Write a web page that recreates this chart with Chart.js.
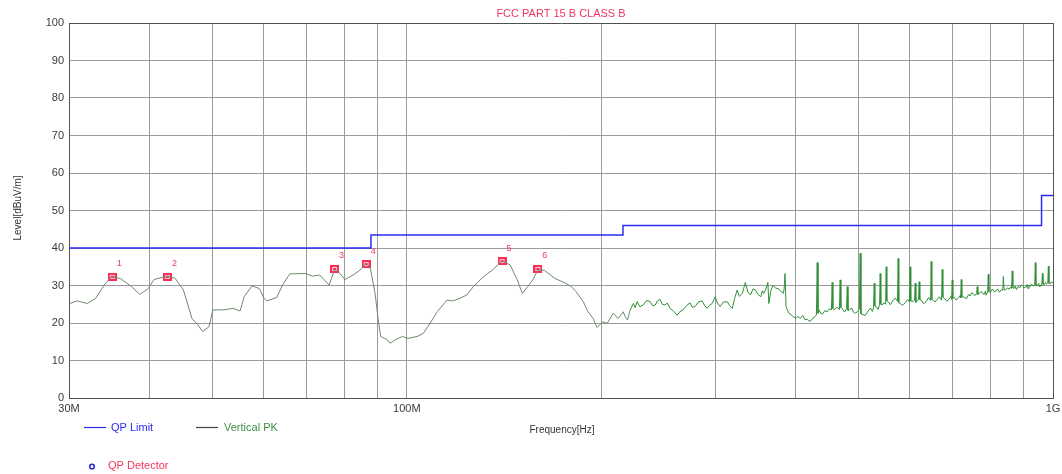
<!DOCTYPE html>
<html>
<head>
<meta charset="utf-8">
<script src="https://cdn.jsdelivr.net/npm/chart.js@4/dist/chart.umd.min.js"></script>
<style>
  html, body { margin: 0; padding: 0; background: #ffffff; }
  #wrap { width: 1062px; height: 474px; }
</style>
</head>
<body>
<div id="wrap"><canvas id="c" width="1062" height="474"></canvas></div>
<script>
// ---- texts ----
const chartTitle = 'FCC PART 15 B CLASS B';
const xAxisTitle = 'Frequency[Hz]';
const yAxisTitle = 'Level[dBuV/m]';
const legendLimit = 'QP Limit';
const legendPeak = 'Vertical PK';
const legendQp = 'QP Detector';

// ---- axes (MHz / dBuV/m) ----
const gridFreqs = [30, 40, 50, 60, 70, 80, 90, 100, 200, 300, 400, 500, 600, 700, 800, 900, 1000];
const freqTickLabels = { 30: '30M', 100: '100M', 1000: '1G' };
const levelMin = 0;
const levelMax = 100;
const levelStep = 10;

// ---- QP limit (stepped) ----
const limitFreq  = [30, 88, 88, 216, 216, 960, 960, 1000];
const limitLevel = [40, 40, 43.5, 43.5, 46, 46, 54, 54];

// ---- vertical peak sweep, 30 - 213 MHz ----
const pkFreqLow = [
  30.1, 30.9, 32.0, 33.0, 34.0, 34.9, 36.0, 37.5, 38.6, 39.8,
  40.6, 42.6, 43.8, 45.1, 46.5, 47.5, 48.3, 49.4, 50.1, 52.0,
  53.8, 55.2, 56.0, 57.6, 59.1, 60.1, 60.7, 62.9, 64.2, 65.9,
  69.8, 71.4, 73.3, 74.5, 75.8, 77.3, 78.8, 80.2, 82.6, 84.6,
  86.5, 87.7, 89.3, 90.3, 91.1, 93.2, 94.2, 95.9, 98.4, 100.4,
  103.7, 106.0, 108.6, 111.4, 115.4, 118.0, 120.9, 123.9, 126.7, 131.5,
  135.6, 140.4, 144.5, 148.2, 150.9, 153.8, 156.6, 159.5, 163.1, 169.4,
  176.1, 179.7, 182.9, 187.5, 190.7, 194.2, 197.0, 200.9, 204.2, 208.6,
  212.4
];
const pkLevelLow = [
  25.2, 25.9, 25.2, 26.6, 30.1, 32.4, 31.9, 29.7, 27.6, 29.2,
  31.6, 32.5, 31.9, 28.8, 21.2, 19.5, 17.7, 19.0, 23.5, 23.5,
  23.9, 23.2, 27.0, 29.9, 29.2, 26.6, 25.9, 26.8, 30.1, 33.1,
  33.2, 32.5, 32.8, 31.5, 30.1, 34.3, 33.2, 31.6, 32.8, 34.1,
  35.9, 35.0, 27.9, 20.8, 16.4, 15.6, 14.6, 15.5, 16.4, 15.9,
  16.4, 17.2, 19.9, 23.0, 26.1, 25.9, 26.6, 27.5, 29.7, 32.4,
  34.1, 36.5, 35.5, 31.5, 27.9, 29.7, 31.5, 34.1, 34.1, 31.9,
  30.6, 29.7, 28.3, 25.7, 23.0, 21.2, 18.8, 20.3, 19.9, 22.6,
  21.2
];

// ---- vertical peak sweep, 216 MHz - 1 GHz ----
const pkFreqHigh = [
  216.2, 217.8, 219.5, 221.5, 224.2, 225.6, 227.2, 229.5, 232.1, 235.0,
  237.9, 240.0, 242.3, 244.2, 246.6, 248.5, 250.8, 253.0, 255.5, 258.5,
  261.9, 264.5, 267.6, 270.8, 274.3, 276.5, 279.3, 282.5, 286.3, 288.7,
  291.5, 294.0, 296.8, 298.4, 300.0, 302.6, 305.4, 309.0, 313.2, 316.0,
  318.9, 321.5, 324.5, 327.0, 330.6, 332.3, 334.1, 337.0, 340.3, 343.4,
  346.4, 349.5, 353.0, 355.0, 356.8, 359.4, 362.0, 363.3, 365.6, 368.6,
  372.0, 375.4, 378.7, 382.2, 383.6, 384.8, 386.2, 388.2, 390.4, 395.0,
  400.1, 403.0, 406.2, 410.0, 413.0, 416.5, 419.0, 422.0, 425.0, 428.3,
  430.4, 431.6, 432.8, 434.6, 437.5, 440.0, 443.5, 447.2, 451.0, 454.0,
  455.2, 456.4, 458.4, 463.0, 467.2, 468.4, 469.6, 471.8, 476.0, 479.2,
  480.4, 481.6, 483.7, 488.0, 491.0, 494.2, 498.0, 501.6, 503.0, 504.4,
  506.6, 512.0, 517.5, 522.0, 525.5, 527.6, 528.8, 530.0, 532.6, 536.0,
  539.0, 540.2, 541.4, 544.1, 548.0, 550.7, 551.9, 553.1, 555.8, 560.0,
  565.8, 570.0, 574.6, 575.9, 577.2, 580.1, 585.0, 590.5, 596.0, 599.8,
  601.1, 602.4, 605.4, 610.6, 612.0, 613.4, 616.3, 619.3, 620.7, 622.1,
  625.2, 630.0, 636.4, 642.0, 646.5, 647.9, 649.3, 652.6, 657.0, 661.9,
  667.0, 672.3, 673.8, 675.3, 678.7, 685.0, 690.8, 695.0, 696.8, 698.3,
  699.8, 703.3, 708.0, 713.4, 718.0, 719.6, 721.1, 722.6, 726.3, 730.5,
  735.0, 740.0, 744.5, 748.0, 752.0, 757.0, 761.6, 763.3, 765.0, 768.8,
  775.0, 779.0, 782.7, 786.0, 788.0, 792.3, 794.0, 795.7, 799.7, 804.0,
  808.0, 812.0, 817.0, 821.0, 826.0, 832.0, 836.2, 838.0, 839.8, 844.0,
  850.0, 855.5, 860.0, 862.8, 864.7, 866.6, 870.9, 874.0, 878.0, 883.0,
  889.8, 893.0, 898.0, 903.0, 909.1, 912.0, 915.0, 918.0, 922.1, 926.0,
  930.0, 934.0, 937.0, 938.9, 940.8, 945.6, 950.0, 954.0, 958.0, 961.0,
  962.9, 964.8, 969.8, 974.0, 977.0, 981.6, 983.6, 985.6, 990.5, 995.0,
  1000
];
const pkLevelHigh = [
  23.0, 21.6, 20.8, 23.4, 25.2, 24.1, 25.7, 24.3, 24.8, 26.0,
  25.7, 24.6, 24.8, 25.9, 26.3, 25.0, 24.8, 25.3, 23.9, 23.2,
  22.1, 23.0, 23.5, 24.6, 25.4, 24.2, 24.4, 25.6, 25.9, 24.8,
  23.9, 24.7, 25.2, 26.1, 27.0, 25.3, 24.4, 25.6, 25.7, 24.6,
  23.9, 26.5, 28.8, 27.1, 27.9, 29.4, 30.8, 28.3, 27.5, 29.1,
  28.8, 27.6, 27.0, 28.6, 27.9, 29.0, 30.8, 25.2, 28.4, 30.1,
  29.3, 29.2, 28.6, 27.9, 29.0, 33.2, 24.4, 23.4, 22.6, 21.9,
  21.2, 21.8, 21.2, 22.0, 20.9, 21.0, 20.5, 20.6, 21.3, 21.7,
  22.2, 36.1, 22.6, 23.5, 22.5, 22.4, 23.3, 23.0, 23.8, 23.5,
  30.8, 23.9, 23.5, 24.2, 23.6, 31.5, 24.1, 23.9, 22.9, 23.8,
  29.7, 23.4, 23.5, 24.0, 22.9, 22.6, 23.0, 23.6, 38.6, 22.4,
  22.3, 22.0, 23.2, 24.0, 23.1, 24.2, 30.6, 24.6, 24.4, 23.6,
  24.9, 33.2, 25.0, 24.8, 25.4, 25.0, 35.0, 25.9, 25.7, 24.9,
  26.1, 26.6, 25.8, 37.2, 25.4, 25.2, 24.7, 25.4, 26.3, 25.6,
  35.0, 25.9, 25.7, 26.0, 30.6, 25.5, 25.9, 26.4, 31.0, 26.2,
  26.1, 25.2, 25.7, 26.8, 26.0, 36.4, 26.3, 26.1, 25.6, 26.3,
  27.0, 26.1, 34.3, 26.9, 26.6, 25.8, 26.4, 27.1, 26.3, 31.5,
  26.6, 26.8, 26.1, 26.6, 27.3, 26.7, 31.6, 26.9, 27.0, 26.7,
  26.5, 27.6, 27.2, 28.0, 27.9, 27.3, 27.8, 29.7, 27.6, 27.9,
  28.4, 27.8, 27.7, 28.5, 27.4, 28.3, 33.0, 28.4, 28.2, 28.9,
  28.9, 28.3, 28.6, 29.1, 28.2, 28.9, 28.7, 32.4, 28.9, 28.8,
  29.4, 29.0, 29.6, 29.2, 33.9, 29.5, 29.2, 29.8, 28.9, 29.7,
  29.5, 30.1, 30.0, 29.4, 29.6, 30.3, 29.2, 30.0, 29.7, 30.4,
  30.1, 29.8, 30.3, 36.1, 30.0, 29.9, 30.6, 29.6, 30.2, 30.0,
  33.2, 30.4, 30.2, 30.8, 30.4, 30.7, 35.2, 30.6, 30.5, 31.0,
  30.6
];

// ---- QP detector readings ----
const qpFreq   = [35.0, 42.6, 77.3, 86.5, 140.4, 159.5];
const qpLevel  = [32.3, 32.3, 34.4, 35.7, 36.5, 34.4];
const qpLabels = ['1', '2', '3', '4', '5', '6'];

// ---- styling ----
const FONT = '"Liberation Sans", Arial, sans-serif';
const TICK_COLOR = '#3a3a3a';
const GRID_COLOR = '#9a9a9a';
const FRAME_COLOR = '#505050';
const LIMIT_COLOR = '#2b2bf0';
const PK_LOW_COLOR = '#6d8a6d';
const PK_HIGH_COLOR = '#2f8f35';
const QP_COLOR = '#ff2a55';
const RED_TEXT = '#f2365e';

// small red square used for the QP readings
function makeQpMark() {
  const c = document.createElement('canvas');
  c.width = 9; c.height = 8;
  const g = c.getContext('2d');
  g.fillStyle = QP_COLOR;
  g.fillRect(0, 0, 9, 8);
  g.strokeStyle = '#ffd0da';
  g.lineWidth = 1;
  g.strokeRect(2.5, 2.5, 4, 3);
  return c;
}

const toPoints = (xs, ys) => xs.map((x, i) => ({ x: x, y: ys[i] }));
const pkPoints = toPoints(pkFreqLow, pkLevelLow).concat(toPoints(pkFreqHigh, pkLevelHigh));

// titles, legend and reading numbers
const decorations = {
  id: 'decorations',
  afterDatasetsDraw(chart) {
    const ctx = chart.ctx;
    const area = chart.chartArea;
    ctx.save();

    // title
    ctx.font = '11px ' + FONT;
    ctx.fillStyle = RED_TEXT;
    ctx.textAlign = 'center';
    ctx.textBaseline = 'middle';
    ctx.fillText(chartTitle, (area.left + area.right) / 2, 14);

    // reading numbers above the QP marks
    const meta = chart.getDatasetMeta(2);
    ctx.font = '9px ' + FONT;
    ctx.fillStyle = RED_TEXT;
    meta.data.forEach((pt, i) => {
      ctx.fillText(qpLabels[i], pt.x + 7, pt.y - 13);
    });

    // y axis title
    ctx.save();
    ctx.translate(18, 208);
    ctx.rotate(-Math.PI / 2);
    ctx.font = '10px ' + FONT;
    ctx.fillStyle = '#333';
    ctx.fillText(yAxisTitle, 0, 0);
    ctx.restore();

    // x axis title
    ctx.font = '10px ' + FONT;
    ctx.fillStyle = '#333';
    ctx.fillText(xAxisTitle, 562, 430);

    // legend
    ctx.textAlign = 'left';
    ctx.font = '11px ' + FONT;
    ctx.lineWidth = 1.2;
    ctx.strokeStyle = LIMIT_COLOR;
    ctx.beginPath(); ctx.moveTo(84, 427.5); ctx.lineTo(106, 427.5); ctx.stroke();
    ctx.fillStyle = LIMIT_COLOR;
    ctx.fillText(legendLimit, 111, 428);

    ctx.strokeStyle = '#444';
    ctx.beginPath(); ctx.moveTo(196, 427.5); ctx.lineTo(218, 427.5); ctx.stroke();
    ctx.fillStyle = '#3f8f45';
    ctx.fillText(legendPeak, 224, 428);

    ctx.strokeStyle = '#2a2ad0';
    ctx.lineWidth = 1.6;
    ctx.beginPath(); ctx.arc(92, 466.5, 2.3, 0, Math.PI * 2); ctx.stroke();
    ctx.fillStyle = RED_TEXT;
    ctx.fillText(legendQp, 108, 466);

    ctx.restore();
  }
};

const edgeColor = (ctx, last) => {
  const v = ctx.tick ? ctx.tick.value : null;
  return v === last ? FRAME_COLOR : GRID_COLOR;
};

new Chart(document.getElementById('c'), {
  data: {
    datasets: [
      {
        type: 'line',
        label: legendLimit,
        data: toPoints(limitFreq, limitLevel),
        borderColor: LIMIT_COLOR,
        borderWidth: 1.5,
        pointRadius: 0,
        tension: 0
      },
      {
        type: 'line',
        label: legendPeak,
        data: pkPoints,
        borderColor: PK_HIGH_COLOR,
        borderWidth: 1,
        pointRadius: 0,
        tension: 0,
        segment: {
          borderColor: (s) => (s.p0.parsed.x < 220 ? PK_LOW_COLOR : PK_HIGH_COLOR)
        }
      },
      {
        type: 'scatter',
        label: legendQp,
        data: toPoints(qpFreq, qpLevel),
        pointStyle: makeQpMark(),
        pointRadius: 4,
        showLine: false
      }
    ]
  },
  options: {
    responsive: false,
    animation: false,
    devicePixelRatio: 1,
    layout: { padding: { top: 23, right: 9, bottom: 56, left: 0 } },
    plugins: {
      legend: { display: false },
      tooltip: { enabled: false },
      title: { display: false }
    },
    scales: {
      x: {
        type: 'logarithmic',
        min: 30,
        max: 1000,
        afterBuildTicks: (axis) => { axis.ticks = gridFreqs.map(v => ({ value: v })); },
        afterFit: (axis) => {
          axis.height = 20;
          axis.paddingLeft = 0;
          axis.paddingRight = 0;
        },
        ticks: {
          autoSkip: false,
          maxRotation: 0,
          minRotation: 0,
          padding: 4,
          color: TICK_COLOR,
          font: { family: FONT, size: 11 },
          callback: (v) => freqTickLabels[v] || ''
        },
        grid: {
          drawTicks: false,
          color: (ctx) => edgeColor(ctx, 1000),
          lineWidth: 1
        },
        border: { display: true, color: FRAME_COLOR, width: 1 }
      },
      y: {
        min: levelMin,
        max: levelMax,
        afterFit: (axis) => {
          axis.width = 69;
          axis.paddingTop = 0;
          axis.paddingBottom = 0;
        },
        ticks: {
          stepSize: levelStep,
          padding: 5,
          color: TICK_COLOR,
          font: { family: FONT, size: 11 }
        },
        grid: {
          drawTicks: false,
          color: (ctx) => edgeColor(ctx, levelMax),
          lineWidth: 1
        },
        border: { display: true, color: FRAME_COLOR, width: 1 }
      }
    }
  },
  plugins: [decorations]
});
</script>
</body>
</html>
